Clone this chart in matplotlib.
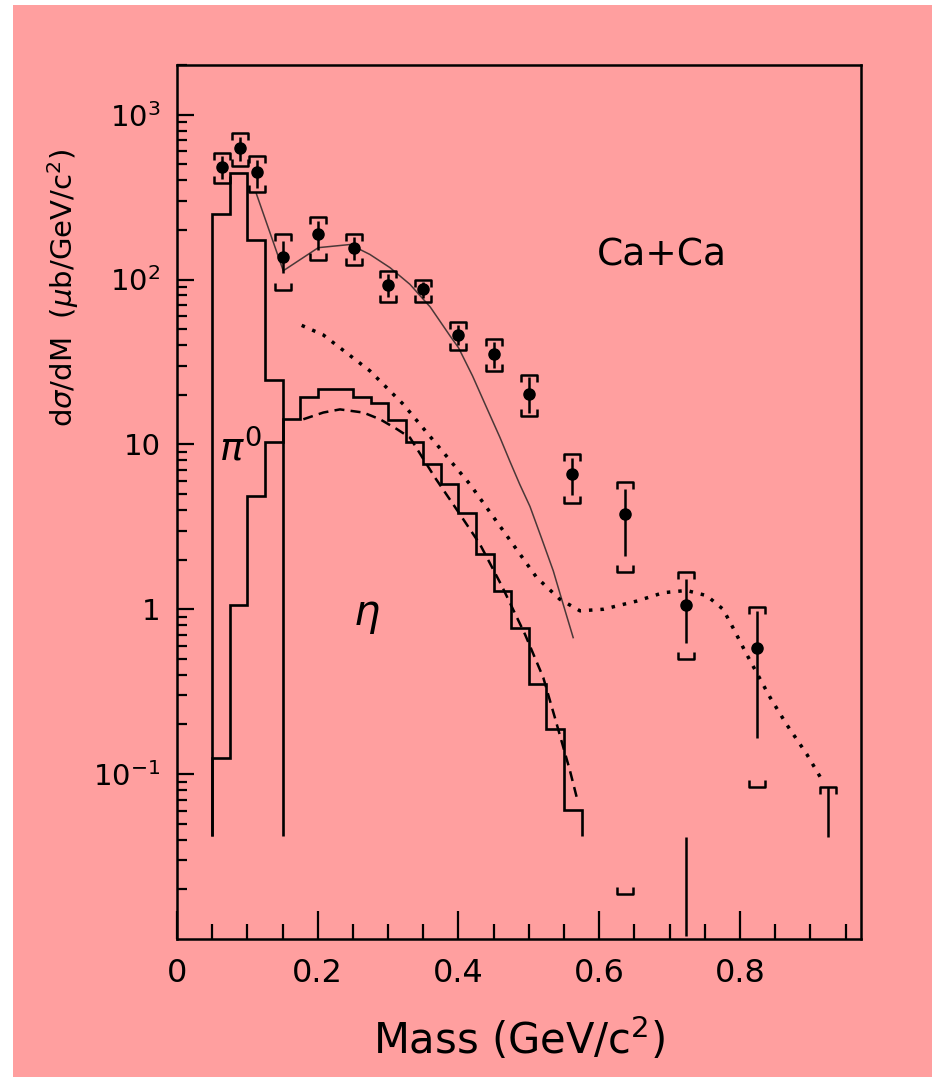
import matplotlib
matplotlib.use('Agg')
import matplotlib.pyplot as plt
from matplotlib.path import Path
from matplotlib.patches import Rectangle
from matplotlib.ticker import LogLocator, MultipleLocator, NullFormatter

PINK = '#ff9f9f'

# measured points (Ca+Ca)
mass = [0.064, 0.089, 0.114, 0.151, 0.201, 0.251, 0.300, 0.350, 0.400,
        0.450, 0.500, 0.562, 0.637, 0.724, 0.824]
xsec = [484, 625, 451, 136, 190, 155, 92.7, 87.3, 46.1,
        35.5, 20.3, 6.59, 3.77, 1.06, 0.58]
stat_hi = [560, 730, 530, 172, 225, 180, 108, 97, 53,
           42, 25.5, 8.3, 5.4, 1.52, 0.977]
stat_lo = [405, 520, 360, 110, 150, 132, 78, 77, 40,
           29, 15.5, 4.9, 2.1, 0.628, 0.165]
sys_hi = [589, 778, 562, 188, 240, 188, 113, 100, 55.6,
          43.4, 26.2, 8.79, 5.93, 1.69, 1.03]
sys_lo = [387, 489, 340, 86, 131, 123, 73.5, 73.5, 37.4,
          27.7, 14.9, 4.40, 1.69, 0.498, 0.0838]

# remnants below the last points
tail_x = [0.925, 0.724]
tail_lo = [0.0417, 0.0104]
tail_hi = [0.083, 0.0413]
tail_top_x = [0.925]
tail_top_y = [0.083]
tail_bot_x = [0.637]
tail_bot_y = [0.0187]

# simulated histograms
pi0_edges = [0.05, 0.075, 0.10, 0.125, 0.15]
pi0_vals = [248, 445, 173, 24.6]
eta_edges = [0.05, 0.075, 0.10, 0.125, 0.15, 0.175, 0.20, 0.225, 0.25, 0.275,
             0.30, 0.325, 0.35, 0.375, 0.40, 0.425, 0.45, 0.475, 0.50, 0.525,
             0.55, 0.575]
eta_vals = [0.126, 1.06, 4.87, 10.4, 14.2, 19.4, 21.8, 21.8, 19.4, 17.9,
            14.0, 10.4, 7.62, 5.73, 3.86, 2.16, 1.29, 0.774, 0.351, 0.187,
            0.0604]
hist_base = 0.042

# eta model (dashed)
eta_fit_x = [0.1795, 0.2079, 0.2316, 0.2647, 0.2885, 0.3122, 0.331, 0.3666,
             0.402, 0.4305, 0.4614, 0.4945, 0.5205, 0.537, 0.5584, 0.570]
eta_fit_y = [14.2, 15.6, 16.3, 15.6, 14.2, 12.4, 11.0, 6.29,
             3.77, 2.48, 1.39, 0.705, 0.385, 0.22, 0.105, 0.067]

# thin solid curve through data
sum_x = [0.1123, 0.151, 0.2008, 0.2458, 0.274, 0.3027, 0.331, 0.360, 0.388,
         0.40, 0.42, 0.44, 0.459, 0.473, 0.487, 0.5016, 0.518, 0.5347, 0.548,
         0.563]
sum_y = [336, 113, 156, 163, 142, 118, 93.5, 68, 45.5,
         38.6, 26, 16.7, 11.0, 7.9, 5.73, 4.2, 2.7, 1.71, 1.1,
         0.673]

# dotted curve
dot_x = [0.1772, 0.2079, 0.2742, 0.3216, 0.369, 0.4163, 0.4637, 0.511, 0.544,
         0.5727, 0.6058, 0.653, 0.691, 0.724, 0.7527, 0.776, 0.790, 0.8095,
         0.8426, 0.866, 0.895, 0.916]
dot_y = [52.7, 46.1, 27.9, 17.5, 10.0, 5.73, 2.99, 1.56, 1.15,
         0.978, 1.0, 1.12, 1.26, 1.30, 1.21, 1.0, 0.774, 0.533,
         0.293, 0.201, 0.132, 0.093]

yticks = [0.1, 1, 10, 100, 1000]
ylabels = ['$10^{-1}$', '1', '10', '$10^2$', '$10^3$']
xticks = [0, 0.2, 0.4, 0.6, 0.8]
xlabels = ['0', '0.2', '0.4', '0.6', '0.8']

W, H = 941, 1087
fig = plt.figure(figsize=(W / 100, H / 100), dpi=100)
fig.patch.set_facecolor('white')
fig.patches.append(Rectangle((13 / W, 10 / H), 919 / W, 1072 / H,
                             transform=fig.transFigure, facecolor=PINK,
                             edgecolor='none', zorder=-10))

ax = fig.add_axes([177 / W, (H - 939) / H, 684 / W, 874 / H])
ax.set_facecolor('none')
ax.set_yscale('log')
ax.set_xlim(0, 0.972)
ax.set_ylim(0.01, 2000)

# histograms
ax.stairs(pi0_vals, pi0_edges, baseline=hist_base, color='k', lw=1.9)
ax.stairs(eta_vals, eta_edges, baseline=hist_base, color='k', lw=1.9)

# model curves
ax.plot(sum_x, sum_y, color='#4a3838', lw=1.1)
ax.plot(eta_fit_x, eta_fit_y, color='k', lw=1.8, ls=(0, (4, 2.5)))
ax.plot(dot_x, dot_y, color='k', lw=2.5, ls=(0, (1, 2.3)))

# data with stat and systematic errors
top_br = Path([(-1, -0.9), (-1, 0), (1, 0), (1, -0.9)],
              [Path.MOVETO, Path.LINETO, Path.LINETO, Path.LINETO])
bot_br = Path([(-1, 0.9), (-1, 0), (1, 0), (1, 0.9)],
              [Path.MOVETO, Path.LINETO, Path.LINETO, Path.LINETO])
br = dict(ls='none', ms=11, mew=1.8, mec='k', mfc='none')

ax.vlines(mass, stat_lo, stat_hi, color='k', lw=1.8)
ax.plot(mass, sys_hi, marker=top_br, **br)
ax.plot(mass, sys_lo, marker=bot_br, **br)
ax.plot(mass, xsec, 'o', color='k', ms=8)

ax.vlines(tail_x, tail_lo, tail_hi, color='k', lw=1.8)
ax.plot(tail_top_x, tail_top_y, marker=top_br, **br)
ax.plot(tail_bot_x, tail_bot_y, marker=bot_br, **br)

# labels inside the frame
ax.text(0.689, 140, 'Ca+Ca', ha='center', va='center', fontsize=27)
ax.text(0.060, 8.0, r'$\pi^0$', fontsize=28, va='baseline')
ax.text(0.250, 0.8, r'$\eta$', fontsize=30, va='baseline')

# axes styling
ax.set_yticks(yticks, labels=ylabels)
ax.yaxis.set_minor_locator(LogLocator(base=10, subs=[2, 3, 4, 5, 6, 7, 8, 9]))
ax.yaxis.set_minor_formatter(NullFormatter())
ax.set_xticks(xticks, labels=xlabels)
ax.xaxis.set_minor_locator(MultipleLocator(0.05))

ax.tick_params(which='both', direction='in', width=1.6, color='k')
ax.tick_params(axis='y', which='major', length=12, labelsize=21, pad=12)
ax.tick_params(axis='y', which='minor', length=7)
ax.tick_params(axis='x', which='major', length=20, labelsize=23, pad=14)
ax.tick_params(axis='x', which='minor', length=11)
for s in ax.spines.values():
    s.set_linewidth(1.8)

ax.set_xlabel('Mass (GeV/c$^2$)', fontsize=30, va='center')
ax.xaxis.set_label_coords(0.5, -0.115)
ax.set_ylabel(r'd$\sigma$/dM  ($\mu$b/GeV/c$^2$)', fontsize=21, va='center')
ax.yaxis.set_label_coords(-0.167, 0.745)

fig.savefig('out.png', dpi=100, facecolor=fig.get_facecolor())
